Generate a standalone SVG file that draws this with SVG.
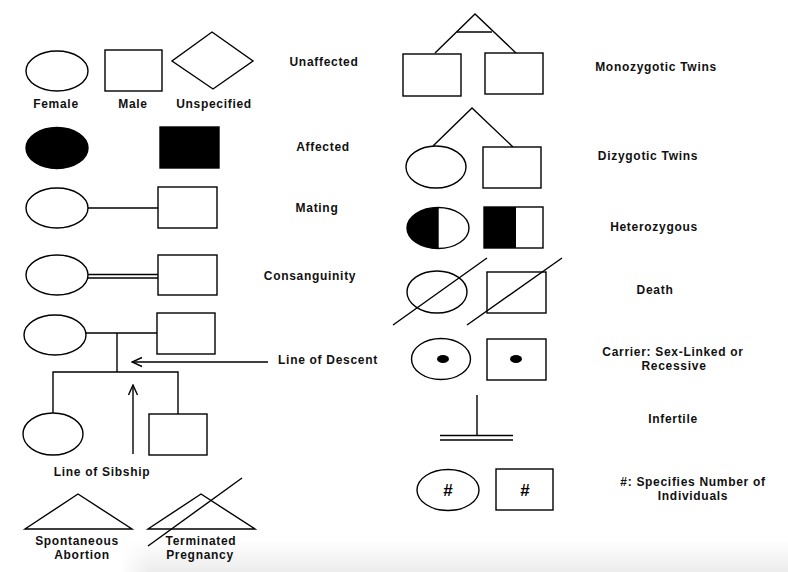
<svg xmlns="http://www.w3.org/2000/svg" width="788" height="572" viewBox="0 0 788 572">
<defs>
<style>
.s{fill:#fff;stroke:#000;stroke-width:1.4}
.f{fill:#000;stroke:#000;stroke-width:1.4}
.l{fill:none;stroke:#000;stroke-width:1.4}
.t{font-family:"Liberation Sans",Arial,sans-serif;font-weight:bold;font-size:12px;letter-spacing:0.7px;text-anchor:middle;fill:#111}
.h{font-family:"Liberation Sans",Arial,sans-serif;font-weight:bold;font-size:17px;text-anchor:middle;fill:#000}
</style>
<linearGradient id="bg" x1="0" y1="0" x2="0" y2="1">
<stop offset="0" stop-color="#fff"/>
<stop offset="1" stop-color="#ececec"/>
</linearGradient>
<linearGradient id="bgx" x1="0" y1="0" x2="1" y2="0">
<stop offset="0" stop-color="#fff" stop-opacity="1"/>
<stop offset="1" stop-color="#fff" stop-opacity="0"/>
</linearGradient>
<marker id="ar" viewBox="0 0 12 12" refX="11" refY="6" markerWidth="12" markerHeight="12" markerUnits="userSpaceOnUse" orient="auto">
<path d="M1,1.5 L11,6 L1,10.5" fill="none" stroke="#000" stroke-width="1.4"/>
</marker>
</defs>
<rect width="788" height="572" fill="#fff"/>
<rect x="120" y="540" width="668" height="32" fill="url(#bg)"/>
<rect x="120" y="540" width="30" height="32" fill="url(#bgx)"/>

<g id="unaffected">
<ellipse class="s" cx="57" cy="71" rx="31" ry="20"/>
<rect class="s" x="105" y="50" width="57" height="41"/>
<polygon class="s" points="212,32 253,61 213,89 172,61"/>
<text class="t" x="56" y="108">Female</text>
<text class="t" x="133" y="108">Male</text>
<text class="t" x="214" y="108">Unspecified</text>
<text class="t" x="324" y="66">Unaffected</text>
</g>

<g id="affected">
<ellipse class="f" cx="57" cy="148" rx="31" ry="20.5"/>
<rect class="f" x="160" y="127" width="59" height="41"/>
<text class="t" x="323" y="151">Affected</text>
</g>

<g id="mating">
<ellipse class="s" cx="57" cy="208" rx="31" ry="20"/>
<rect class="s" x="158" y="187" width="59" height="41"/>
<text class="t" x="317" y="212">Mating</text>
</g>

<g id="consanguinity">
<ellipse class="s" cx="57" cy="275" rx="31" ry="20"/>
<rect class="s" x="158" y="255" width="59" height="40"/>
<text class="t" x="310" y="280">Consanguinity</text>
</g>

<g id="descent">
<ellipse class="s" cx="55" cy="335" rx="31" ry="20"/>
<rect class="s" x="157" y="313" width="58" height="41"/>
<ellipse class="s" cx="53" cy="434" rx="30" ry="21"/>
<rect class="s" x="149" y="414" width="58" height="41"/>
<text class="t" x="328" y="364">Line of Descent</text>
<text class="t" x="102" y="476">Line of Sibship</text>
</g>

<g id="abortion">
<polygon class="s" points="78,494 132,529 25,529"/>
<text class="t" x="77" y="545">Spontaneous</text>
<text class="t" x="82" y="559">Abortion</text>
</g>

<g id="terminated">
<polygon class="s" points="201,494 255,529 148,529"/>
<line class="l" x1="148" y1="546" x2="242" y2="478"/>
<text class="t" x="201" y="545">Terminated</text>
<text class="t" x="200" y="559">Pregnancy</text>
</g>

<g id="monozygotic">
<rect class="s" x="403" y="54" width="58" height="42"/>
<rect class="s" x="485" y="53" width="58" height="41"/>
<text class="t" x="656" y="71">Monozygotic Twins</text>
</g>

<g id="dizygotic">
<ellipse class="s" cx="436" cy="167" rx="30" ry="21"/>
<rect class="s" x="483" y="147" width="58" height="41"/>
<text class="t" x="648" y="160">Dizygotic Twins</text>
</g>

<g id="heterozygous">
<ellipse class="s" cx="438" cy="228" rx="31" ry="20.5"/>
<path d="M438,207.5 A31,20.5 0 0 0 438,248.5 Z" fill="#000"/>
<line class="l" x1="438" y1="207.5" x2="438" y2="248.5"/>
<rect class="s" x="484" y="207" width="59" height="41"/>
<rect x="484" y="207" width="32" height="41" fill="#000"/>
<text class="t" x="654" y="231">Heterozygous</text>
</g>

<g id="death">
<ellipse class="s" cx="437" cy="292" rx="30" ry="21"/>
<line class="l" x1="393" y1="325" x2="487" y2="258"/>
<rect class="s" x="487" y="272" width="59" height="41"/>
<line class="l" x1="467" y1="325" x2="562" y2="258"/>
<text class="t" x="655" y="294">Death</text>
</g>

<g id="carrier">
<ellipse class="s" cx="441" cy="359" rx="29.5" ry="20.5"/>
<ellipse cx="443" cy="359" rx="6" ry="4" fill="#000"/>
<rect class="s" x="487" y="339" width="59" height="41"/>
<ellipse cx="516" cy="359" rx="6" ry="4" fill="#000"/>
<text class="t" x="673" y="356">Carrier: Sex-Linked or</text>
<text class="t" x="674" y="370">Recessive</text>
</g>

<g id="infertile">
<line class="l" x1="477" y1="395" x2="477" y2="435.5"/>
<line class="l" x1="440" y1="435.5" x2="513" y2="435.5"/>
<line class="l" x1="440" y1="440" x2="513" y2="440"/>
<text class="t" x="673" y="423">Infertile</text>
</g>

<g id="number">
<ellipse class="s" cx="448" cy="490" rx="31" ry="20.5"/>
<text class="h" x="448" y="496">#</text>
<rect class="s" x="496" y="469" width="57" height="41"/>
<text class="h" x="525" y="496">#</text>
<text class="t" x="693" y="486">#: Specifies Number of</text>
<text class="t" x="693" y="500">Individuals</text>
</g>

<g id="connectors">
<line class="l" x1="88" y1="208" x2="158" y2="208"/>
<line class="l" x1="88" y1="274.5" x2="158" y2="274.5"/>
<line class="l" x1="88" y1="278" x2="158" y2="278"/>
<line class="l" x1="86" y1="333" x2="157" y2="333"/>
<polyline class="l" points="117,333 117,372"/>
<polyline class="l" points="53,413 53,372 178,372 178,414"/>
<line class="l" x1="268" y1="362" x2="132" y2="362" marker-end="url(#ar)"/>
<line class="l" x1="133" y1="454" x2="133" y2="385" marker-end="url(#ar)"/>
<polyline class="l" points="435,53 475,14 516,53"/>
<line class="l" x1="457" y1="32" x2="492" y2="32"/>
<polyline class="l" points="433,146 472,108 513,147"/>
</g>
</svg>
